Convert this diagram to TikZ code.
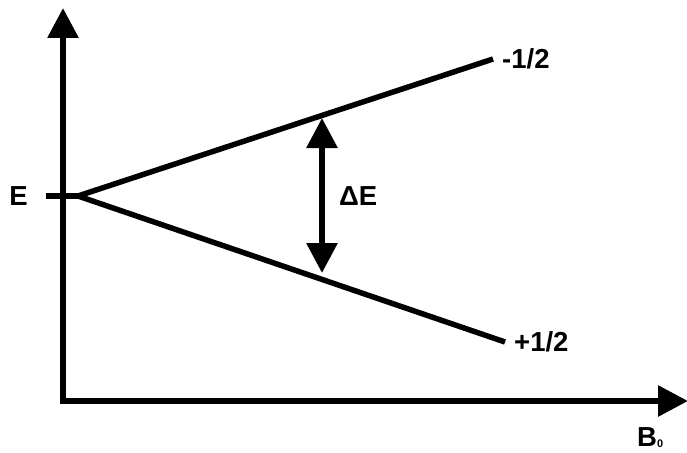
\documentclass[tikz,border=0pt]{standalone}
\usepackage{fontspec}
\setmainfont{Liberation Sans}
\usetikzlibrary{arrows.meta,positioning}

\begin{document}
\begin{tikzpicture}[
  x=1pt, y=-1pt,
  node distance=9pt,
  axis/.style={line width=6pt, {Triangle[length=30pt, width=30pt]}-{Triangle[length=30pt, width=30pt]}},
  level/.style={line width=5.5pt},
  gap/.style={line width=6pt, {Triangle[length=30pt, width=30pt]}-{Triangle[length=30pt, width=30pt]}},
  lbl/.style={font=\bfseries\fontsize{27.5}{30}\selectfont, inner sep=0pt},
]
\useasboundingbox (0,0) rectangle (687,452);
% axes
\coordinate (ytip) at (63,8);
\coordinate (orig) at (63,401);
\coordinate (xtip) at (688,401);
\draw[axis] (ytip) -- (orig) -- (xtip);
% zero-field energy and the two levels
\coordinate (tick) at (46,196);
\coordinate (split) at (78,196);
\coordinate (upend) at (493,59);
\coordinate (downend) at (505,342);
\draw[level] (tick) -- (split);
\draw[level] (split) -- (upend);
\draw[level] (split) -- (downend);
\node[lbl, left=18pt of tick] (elbl) {E};
\node[lbl, right=of upend] (uplbl) {-1/2};
\node[lbl, right=of downend] (downlbl) {+1/2};
% splitting
\coordinate (gaptop) at (322,118);
\coordinate (gapbot) at (322,273);
\draw[gap] (gaptop) -- (gapbot);
\node[lbl, anchor=west] (delbl) at (339,196) {ΔE};
% field axis label
\node[lbl, anchor=base west] (blbl) at (637,446) {B\raisebox{-1pt}{\fontsize{11}{11}\selectfont 0}};
\end{tikzpicture}
\end{document}
